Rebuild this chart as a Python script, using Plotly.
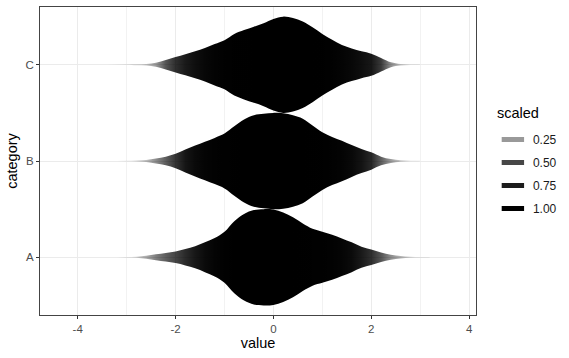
import numpy as np
import plotly.graph_objects as go

# ---- data ----
categories = ["A", "B", "C"]

x_a = [-3.2, -3.0, -2.8, -2.6, -2.4, -2.2, -2.0, -1.8, -1.6, -1.4, -1.2, -1.0, -0.8, -0.6, -0.4, -0.2,
       0.0, 0.2, 0.4, 0.6, 0.8, 1.0, 1.2, 1.4, 1.6, 1.8, 2.0, 2.2, 2.4, 2.6, 2.8, 3.0, 3.2]
s_a = [0.001, 0.003, 0.01, 0.03, 0.06, 0.09, 0.12, 0.17, 0.23, 0.31, 0.40, 0.53, 0.75, 0.90, 0.98, 1.00,
       0.99, 0.93, 0.83, 0.70, 0.59, 0.53, 0.47, 0.39, 0.31, 0.22, 0.16, 0.10, 0.05, 0.025, 0.01, 0.004, 0.001]

x_b = [-3.2, -3.0, -2.8, -2.6, -2.4, -2.2, -2.0, -1.8, -1.6, -1.4, -1.2, -1.0, -0.8, -0.6, -0.4, -0.2,
       0.0, 0.2, 0.4, 0.6, 0.8, 1.0, 1.2, 1.4, 1.6, 1.8, 2.0, 2.2, 2.4, 2.6, 2.8, 3.0]
s_b = [0.001, 0.003, 0.008, 0.02, 0.05, 0.09, 0.15, 0.24, 0.32, 0.40, 0.48, 0.57, 0.72, 0.86, 0.95, 0.98,
       1.00, 0.99, 0.95, 0.88, 0.74, 0.60, 0.50, 0.42, 0.33, 0.25, 0.18, 0.09, 0.04, 0.015, 0.006, 0.002]

x_c = [-3.4, -3.0, -2.8, -2.6, -2.4, -2.2, -2.0, -1.8, -1.6, -1.4, -1.2, -1.0, -0.8, -0.6, -0.4, -0.2,
       0.0, 0.2, 0.4, 0.6, 0.8, 1.0, 1.2, 1.4, 1.6, 1.8, 2.0, 2.2, 2.4, 2.6, 2.8, 3.0]
s_c = [0.001, 0.004, 0.008, 0.015, 0.04, 0.10, 0.16, 0.22, 0.28, 0.35, 0.43, 0.51, 0.64, 0.72, 0.79, 0.86,
       0.95, 1.00, 0.97, 0.90, 0.78, 0.64, 0.52, 0.41, 0.34, 0.28, 0.23, 0.14, 0.05, 0.015, 0.005, 0.002]

legend_title = "scaled"
legend_levels = ["0.25", "0.50", "0.75", "1.00"]
legend_colors = ["#999999", "#474747", "#1c1c1c", "#000000"]

x_ticks = [-4, -2, 0, 2, 4]


def opacity(s):
    return float(min(1.0, 1.0 - 0.9 * np.exp(-10.0 * s)))


series = [(x_a, s_a), (x_b, s_b), (x_c, s_c)]

fig = go.Figure()

for i, (xv, sv) in enumerate(series):
    pos = i + 1
    xs = np.array(xv, dtype=float)
    ss = np.array(sv, dtype=float)
    px = np.concatenate([xs, xs[::-1]])
    py = np.concatenate([pos + 0.5 * ss, (pos - 0.5 * ss)[::-1]])
    xmin, xmax = xs.min(), xs.max()
    cscale = [[(x - xmin) / (xmax - xmin), f"rgba(0,0,0,{opacity(s):.3f})"] for x, s in zip(xs, ss)]
    fig.add_trace(go.Scatter(
        x=px, y=py, mode="lines", fill="toself",
        line=dict(width=0, shape="spline", smoothing=1.0, color="rgba(0,0,0,0)"),
        fillgradient=dict(type="horizontal", start=xmin, stop=xmax, colorscale=cscale),
        showlegend=False, hoverinfo="skip",
    ))

for lab, col in zip(legend_levels, legend_colors):
    fig.add_trace(go.Scatter(
        x=[None], y=[None], mode="markers", name=lab, legendgroup=lab,
        marker=dict(symbol="line-ew", size=16, line=dict(width=5, color=col), color=col),
    ))

font_family = "Liberation Sans, Arial, Helvetica, sans-serif"

fig.add_annotation(
    text=legend_title, xref="paper", yref="paper",
    x=(498 - 40) / 439, y=(315 - 113) / 308, xanchor="left", yanchor="middle",
    showarrow=False, font=dict(size=14.5, color="black"),
)

fig.update_layout(
    width=569, height=358,
    margin=dict(l=40, r=90, t=7, b=43),
    paper_bgcolor="white", plot_bgcolor="white",
    font=dict(family=font_family, color="black"),
    xaxis=dict(
        range=[-4.77, 4.14], tickvals=x_ticks, ticktext=[str(t) for t in x_ticks],
        showgrid=True, gridcolor="#ebebeb", gridwidth=1,
        minor=dict(dtick=1, tick0=0, showgrid=True, gridcolor="#f2f2f2", gridwidth=0.6),
        zeroline=False, showline=True, mirror=True, linecolor="#444444", linewidth=1,
        ticks="outside", ticklen=3, tickcolor="#333333", tickwidth=1,
        tickfont=dict(size=11.5, color="#4d4d4d"),
        title=dict(text="value", font=dict(size=14.5, color="black"), standoff=4),
    ),
    yaxis=dict(
        range=[0.4, 3.6], tickvals=[1, 2, 3], ticktext=categories,
        showgrid=True, gridcolor="#ebebeb", gridwidth=1,
        zeroline=False, showline=True, mirror=True, linecolor="#444444", linewidth=1,
        ticks="outside", ticklen=3, tickcolor="#333333", tickwidth=1,
        tickfont=dict(size=11.5, color="#4d4d4d"),
        title=dict(text="category", font=dict(size=14.5, color="black"), standoff=4),
    ),
    legend=dict(
        x=(496 - 40) / 439, xanchor="left", y=(315 - 125) / 308, yanchor="top",
        font=dict(size=12, color="#1a1a1a"),
        tracegroupgap=4, itemwidth=30, bgcolor="rgba(0,0,0,0)",
    ),
)

fig.write_html("out.html")
